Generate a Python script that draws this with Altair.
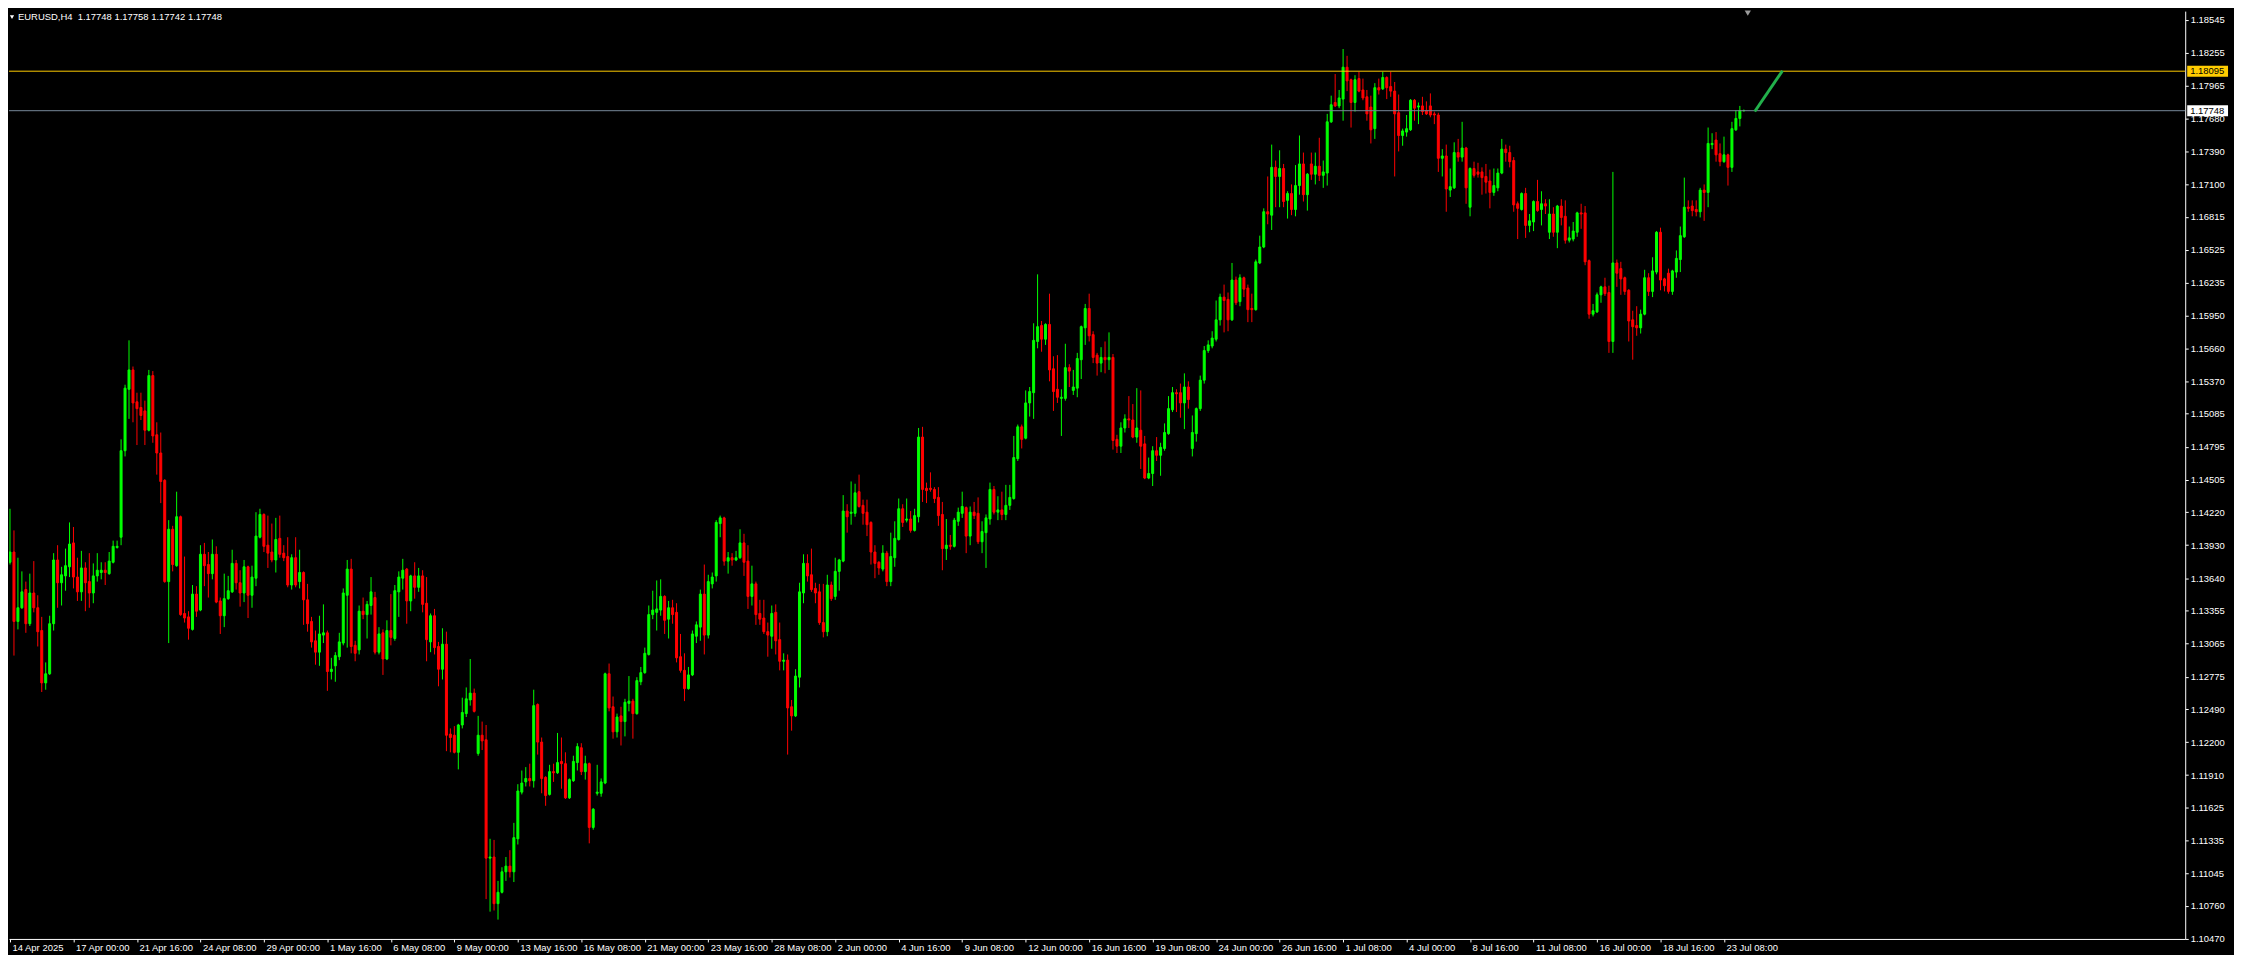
import json
import altair as alt
import pandas as pd

# ---------------- data (EURUSD H4 candles) ----------------
OPEN = [
1.1378,1.1387,1.1326,1.1338,1.1354,1.1324,1.1351,1.1338,1.1318,1.1272,
1.1280,1.1324,1.1380,1.1360,1.1366,1.1374,1.1395,1.1365,1.1352,1.1373,
1.1361,1.1351,1.1366,1.1369,1.1371,1.1368,1.1378,1.1391,1.1400,1.1476,
1.1530,1.1547,1.1519,1.1514,1.1511,1.1494,1.1542,1.1490,1.1474,1.1450,
1.1361,1.1407,1.1375,1.1418,1.1333,1.1330,1.1319,1.1350,1.1336,1.1385,
1.1376,1.1368,1.1385,1.1344,1.1331,1.1346,1.1352,1.1377,1.1360,1.1351,
1.1374,1.1349,1.1364,1.1400,1.1420,1.1393,1.1387,1.1380,1.1399,1.1386,
1.1383,1.1358,1.1382,1.1361,1.1369,1.1345,1.1326,1.1309,1.1299,1.1314,
1.1316,1.1282,1.1287,1.1295,1.1307,1.1349,1.1372,1.1305,1.1301,1.1335,
1.1332,1.1340,1.1347,1.1299,1.1316,1.1293,1.1318,1.1311,1.1352,1.1364,
1.1372,1.1344,1.1366,1.1356,1.1366,1.1342,1.1308,1.1331,1.1304,1.1284,
1.1306,1.1227,1.1226,1.1211,1.1235,1.1245,1.1257,1.1263,1.1210,1.1226,
1.1222,1.1118,1.1119,1.1078,1.1088,1.1106,1.1111,1.1106,1.1135,1.1176,
1.1185,1.1188,1.1186,1.1253,1.1220,1.1189,1.1174,1.1194,1.1193,1.1203,
1.1201,1.1171,1.1186,1.1202,1.1215,1.1194,1.1201,1.1145,1.1175,1.1175,
1.1184,1.1280,1.1251,1.1229,1.1243,1.1238,1.1254,1.1256,1.1245,1.1273,
1.1281,1.1297,1.1332,1.1334,1.1336,1.1348,1.1328,1.1338,1.1334,1.1295,
1.1283,1.1267,1.1279,1.1313,1.1321,1.1350,1.1314,1.1359,1.1366,1.1412,
1.1417,1.1379,1.1382,1.1380,1.1382,1.1395,1.1379,1.1348,1.1359,1.1333,
1.1329,1.1317,1.1313,1.1334,1.1310,1.1291,1.1292,1.1251,1.1243,1.1277,
1.1351,1.1377,1.1367,1.1355,1.1352,1.1325,1.1317,1.1358,1.1348,1.1370,
1.1379,1.1423,1.1421,1.1421,1.1440,1.1428,1.1422,1.1413,1.1387,1.1378,
1.1372,1.1386,1.1361,1.1382,1.1398,1.1425,1.1415,1.1416,1.1406,1.1418,
1.1488,1.1443,1.1443,1.1442,1.1435,1.1420,1.1390,1.1393,1.1392,1.1414,
1.1421,1.1426,1.1401,1.1422,1.1421,1.1396,1.1404,1.1416,1.1442,1.1422,
1.1424,1.1420,1.1428,1.1434,1.1469,1.1497,1.1487,1.1518,1.1527,1.1572,
1.1586,1.1574,1.1587,1.1548,1.1530,1.1522,1.1522,1.1549,1.1529,1.1531,
1.1556,1.1584,1.1601,1.1578,1.1560,1.1553,1.1558,1.1556,1.1558,1.1486,
1.1480,1.1496,1.1504,1.1503,1.1488,1.1494,1.1482,1.1452,1.1456,1.1476,
1.1472,1.1478,1.1491,1.1512,1.1527,1.1527,1.1518,1.1532,1.1478,1.1491,
1.1513,1.1538,1.1564,1.1568,1.1574,1.1591,1.1611,1.1609,1.1591,1.1626,
1.1607,1.1628,1.1619,1.1601,1.1600,1.1641,1.1655,1.1686,1.1683,1.1725,
1.1717,1.1724,1.1696,1.1702,1.1688,1.1709,1.1728,1.1701,1.1728,1.1719,
1.1726,1.1718,1.1720,1.1765,1.1782,1.1779,1.1785,1.1813,1.1802,1.1782,
1.1803,1.1793,1.1787,1.1778,1.1759,1.1795,1.1794,1.1804,1.1796,1.1792,
1.1773,1.1753,1.1756,1.1758,1.1784,1.1778,1.1779,1.1775,1.1779,1.1772,
1.1771,1.1733,1.1735,1.1705,1.1707,1.1738,1.1734,1.1742,1.1690,1.1724,
1.1721,1.1721,1.1717,1.1713,1.1703,1.1707,1.1720,1.1741,1.1738,1.1731,
1.1693,1.1688,1.1702,1.1674,1.1677,1.1695,1.1688,1.1693,1.1668,1.1684,
1.1668,1.1691,1.1682,1.1661,1.1662,1.1668,1.1685,1.1685,1.1643,1.1596,
1.1598,1.1613,1.1620,1.1615,1.1572,1.1641,1.1636,1.1628,1.1617,1.1591,
1.1586,1.1584,1.1596,1.1628,1.1616,1.1633,1.1668,1.1627,1.1632,1.1616,
1.1633,1.1644,1.1664,1.1690,1.1691,1.1688,1.1686,1.1705,1.1703,1.1745,
1.1749,1.1737,1.1730,1.1736,1.1725,1.1758,1.1768,1.17748]

HIGH = [
1.1425,1.1406,1.1382,1.1370,1.1361,1.1368,1.1379,1.1349,1.1330,1.1290,
1.1331,1.1386,1.1393,1.1374,1.1390,1.1413,1.1409,1.1382,1.1388,1.1378,
1.1386,1.1377,1.1386,1.1378,1.1378,1.1387,1.1397,1.1397,1.1486,1.1534,
1.1573,1.1550,1.1527,1.1527,1.1520,1.1547,1.1546,1.1501,1.1492,1.1451,
1.1415,1.1410,1.1440,1.1419,1.1383,1.1335,1.1358,1.1357,1.1393,1.1395,
1.1387,1.1398,1.1392,1.1347,1.1368,1.1366,1.1389,1.1380,1.1371,1.1380,
1.1375,1.1375,1.1422,1.1425,1.1421,1.1419,1.1412,1.1417,1.1419,1.1393,
1.1400,1.1385,1.1400,1.1389,1.1370,1.1359,1.1330,1.1318,1.1331,1.1341,
1.1318,1.1294,1.1299,1.1316,1.1355,1.1380,1.1381,1.1309,1.1340,1.1347,
1.1344,1.1365,1.1352,1.1321,1.1319,1.1327,1.1350,1.1358,1.1370,1.1381,
1.1373,1.1367,1.1378,1.1373,1.1371,1.1365,1.1333,1.1337,1.1308,1.1320,
1.1317,1.1232,1.1234,1.1236,1.1259,1.1268,1.1293,1.1267,1.1243,1.1238,
1.1235,1.1135,1.1134,1.1098,1.1110,1.1119,1.1125,1.1149,1.1183,1.1195,
1.1198,1.1201,1.1266,1.1254,1.1224,1.1190,1.1200,1.1201,1.1228,1.1224,
1.1211,1.1188,1.1208,1.1219,1.1219,1.1208,1.1202,1.1162,1.1200,1.1188,
1.1281,1.1289,1.1260,1.1245,1.1251,1.1258,1.1278,1.1258,1.1277,1.1286,
1.1303,1.1340,1.1353,1.1362,1.1363,1.1349,1.1344,1.1345,1.1342,1.1315,
1.1298,1.1286,1.1318,1.1326,1.1354,1.1376,1.1367,1.1369,1.1415,1.1419,
1.1418,1.1387,1.1386,1.1388,1.1407,1.1403,1.1393,1.1375,1.1361,1.1345,
1.1345,1.1325,1.1340,1.1341,1.1325,1.1298,1.1297,1.1257,1.1284,1.1360,
1.1385,1.1385,1.1390,1.1360,1.1359,1.1359,1.1367,1.1361,1.1382,1.1381,
1.1437,1.1429,1.1449,1.1447,1.1455,1.1433,1.1433,1.1414,1.1393,1.1379,
1.1393,1.1388,1.1404,1.1414,1.1434,1.1429,1.1434,1.1423,1.1425,1.1496,
1.1497,1.1448,1.1457,1.1444,1.1444,1.1431,1.1416,1.1402,1.1417,1.1426,
1.1440,1.1427,1.1427,1.1431,1.1435,1.1414,1.1420,1.1448,1.1445,1.1436,
1.1440,1.1446,1.1446,1.1489,1.1499,1.1499,1.1529,1.1532,1.1588,1.1631,
1.1590,1.1588,1.1614,1.1559,1.1560,1.1530,1.1570,1.1552,1.1547,1.1562,
1.1586,1.1605,1.1614,1.1581,1.1562,1.1567,1.1572,1.1580,1.1561,1.1490,
1.1501,1.1508,1.1524,1.1517,1.1531,1.1529,1.1489,1.1470,1.1480,1.1488,
1.1483,1.1500,1.1524,1.1532,1.1530,1.1535,1.1544,1.1537,1.1507,1.1514,
1.1542,1.1568,1.1573,1.1581,1.1608,1.1614,1.1622,1.1615,1.1641,1.1629,
1.1631,1.1629,1.1622,1.1614,1.1644,1.1665,1.1689,1.1717,1.1745,1.1731,
1.1740,1.1728,1.1704,1.1710,1.1727,1.1753,1.1738,1.1720,1.1738,1.1738,
1.1751,1.1731,1.1772,1.1788,1.1807,1.1793,1.1829,1.1823,1.1803,1.1806,
1.1809,1.1803,1.1793,1.1788,1.1799,1.1803,1.1809,1.1805,1.1809,1.1800,
1.1789,1.1759,1.1771,1.1785,1.1785,1.1782,1.1787,1.1783,1.1790,1.1774,
1.1773,1.1741,1.1745,1.1724,1.1747,1.1750,1.1765,1.1743,1.1725,1.1730,
1.1729,1.1725,1.1728,1.1723,1.1724,1.1724,1.1750,1.1745,1.1744,1.1734,
1.1695,1.1703,1.1707,1.1684,1.1696,1.1714,1.1704,1.1697,1.1697,1.1690,
1.1692,1.1697,1.1696,1.1673,1.1677,1.1686,1.1693,1.1691,1.1644,1.1605,
1.1615,1.1621,1.1628,1.1621,1.1721,1.1644,1.1642,1.1629,1.1618,1.1599,
1.1603,1.1600,1.1635,1.1632,1.1646,1.1669,1.1672,1.1628,1.1636,1.1635,
1.1652,1.1673,1.1716,1.1696,1.1696,1.1696,1.1707,1.1710,1.1760,1.1755,
1.1756,1.1746,1.1752,1.1737,1.1765,1.1775,1.1779,1.17758]

LOW = [
1.1376,1.1296,1.1319,1.1337,1.1316,1.1322,1.1334,1.1304,1.1264,1.1266,
1.1279,1.1318,1.1338,1.1340,1.1353,1.1365,1.1355,1.1344,1.1344,1.1335,
1.1338,1.1342,1.1361,1.1363,1.1358,1.1367,1.1377,1.1390,1.1393,1.1471,
1.1504,1.1501,1.1481,1.1503,1.1481,1.1493,1.1483,1.1455,1.1430,1.1360,
1.1307,1.1370,1.1374,1.1331,1.1325,1.1310,1.1318,1.1330,1.1335,1.1357,
1.1347,1.1363,1.1342,1.1315,1.1321,1.1345,1.1351,1.1354,1.1339,1.1343,
1.1329,1.1338,1.1357,1.1399,1.1387,1.1373,1.1378,1.1369,1.1382,1.1379,
1.1356,1.1354,1.1356,1.1355,1.1323,1.1317,1.1303,1.1288,1.1287,1.1307,
1.1265,1.1275,1.1273,1.1292,1.1305,1.1303,1.1298,1.1291,1.1297,1.1328,
1.1311,1.1332,1.1297,1.1297,1.1279,1.1292,1.1305,1.1309,1.1330,1.1354,
1.1324,1.1335,1.1346,1.1352,1.1334,1.1291,1.1299,1.1297,1.1269,1.1275,
1.1212,1.1211,1.1210,1.1196,1.1232,1.1242,1.1252,1.1246,1.1208,1.1213,
1.1082,1.1071,1.1072,1.1064,1.1087,1.1098,1.1101,1.1097,1.1130,1.1174,
1.1181,1.1181,1.1180,1.1209,1.1175,1.1164,1.1173,1.1185,1.1192,1.1179,
1.1170,1.1170,1.1185,1.1195,1.1191,1.1187,1.1131,1.1143,1.1173,1.1172,
1.1183,1.1247,1.1223,1.1224,1.1217,1.1225,1.1247,1.1223,1.1244,1.1270,
1.1280,1.1296,1.1328,1.1318,1.1331,1.1315,1.1311,1.1324,1.1290,1.1281,
1.1256,1.1266,1.1278,1.1307,1.1309,1.1297,1.1311,1.1355,1.1361,1.1400,
1.1375,1.1368,1.1375,1.1379,1.1381,1.1366,1.1337,1.1340,1.1323,1.1323,
1.1315,1.1295,1.1302,1.1297,1.1283,1.1283,1.1209,1.1230,1.1242,1.1268,
1.1342,1.1361,1.1352,1.1342,1.1323,1.1312,1.1313,1.1344,1.1345,1.1353,
1.1378,1.1404,1.1411,1.1418,1.1426,1.1411,1.1401,1.1376,1.1364,1.1367,
1.1370,1.1357,1.1357,1.1374,1.1397,1.1409,1.1413,1.1404,1.1405,1.1413,
1.1431,1.1430,1.1440,1.1430,1.1410,1.1371,1.1380,1.1389,1.1391,1.1410,
1.1417,1.1386,1.1393,1.1416,1.1394,1.1386,1.1373,1.1411,1.1420,1.1415,
1.1415,1.1415,1.1424,1.1433,1.1467,1.1478,1.1486,1.1506,1.1504,1.1566,
1.1563,1.1569,1.1537,1.1511,1.1518,1.1489,1.1520,1.1532,1.1525,1.1523,
1.1539,1.1569,1.1572,1.1553,1.1542,1.1545,1.1544,1.1547,1.1477,1.1474,
1.1474,1.1492,1.1496,1.1487,1.1483,1.1460,1.1451,1.1451,1.1445,1.1467,
1.1454,1.1476,1.1490,1.1510,1.1510,1.1505,1.1495,1.1513,1.1471,1.1484,
1.1511,1.1535,1.1562,1.1566,1.1572,1.1586,1.1580,1.1581,1.1590,1.1604,
1.1603,1.1611,1.1589,1.1589,1.1599,1.1640,1.1654,1.1675,1.1670,1.1690,
1.1690,1.1690,1.1680,1.1683,1.1682,1.1701,1.1695,1.1687,1.1714,1.1710,
1.1713,1.1707,1.1709,1.1764,1.1778,1.1777,1.1766,1.1792,1.1760,1.1774,
1.1791,1.1784,1.1766,1.1746,1.1750,1.1789,1.1793,1.1785,1.1787,1.1717,
1.1739,1.1744,1.1752,1.1757,1.1766,1.1763,1.1771,1.1771,1.1769,1.1763,
1.1721,1.1717,1.1686,1.1699,1.1706,1.1730,1.1730,1.1693,1.1682,1.1716,
1.1716,1.1701,1.1702,1.1689,1.1700,1.1704,1.1719,1.1730,1.1725,1.1686,
1.1662,1.1687,1.1663,1.1668,1.1669,1.1686,1.1674,1.1684,1.1662,1.1664,
1.1654,1.1674,1.1658,1.1659,1.1660,1.1664,1.1671,1.1639,1.1592,1.1594,
1.1597,1.1606,1.1612,1.1562,1.1562,1.1620,1.1613,1.1613,1.1572,1.1556,
1.1577,1.1579,1.1595,1.1612,1.1611,1.1631,1.1617,1.1616,1.1614,1.1613,
1.1628,1.1633,1.1663,1.1686,1.1682,1.1682,1.1681,1.1678,1.1690,1.1741,
1.1730,1.1726,1.1729,1.1709,1.1721,1.1757,1.1761,1.17742]

CLOSE = [
1.1387,1.1326,1.1338,1.1352,1.1324,1.1351,1.1338,1.1317,1.1272,1.1280,
1.1324,1.1380,1.1360,1.1367,1.1375,1.1394,1.1365,1.1352,1.1373,1.1360,
1.1351,1.1366,1.1371,1.1371,1.1369,1.1379,1.1392,1.1392,1.1476,1.1531,
1.1547,1.1518,1.1513,1.1507,1.1494,1.1542,1.1489,1.1474,1.1449,1.1361,
1.1407,1.1376,1.1418,1.1332,1.1329,1.1320,1.1350,1.1335,1.1385,1.1375,
1.1368,1.1385,1.1343,1.1331,1.1346,1.1353,1.1377,1.1360,1.1351,1.1374,
1.1349,1.1365,1.1401,1.1420,1.1392,1.1386,1.1380,1.1398,1.1385,1.1382,
1.1358,1.1382,1.1358,1.1369,1.1345,1.1324,1.1308,1.1299,1.1315,1.1316,
1.1282,1.1284,1.1296,1.1308,1.1351,1.1372,1.1304,1.1298,1.1335,1.1332,
1.1341,1.1352,1.1299,1.1315,1.1293,1.1318,1.1312,1.1353,1.1365,1.1371,
1.1344,1.1366,1.1356,1.1366,1.1341,1.1310,1.1331,1.1303,1.1284,1.1306,
1.1226,1.1224,1.1211,1.1235,1.1246,1.1258,1.1263,1.1247,1.1226,1.1221,
1.1118,1.1119,1.1078,1.1088,1.1106,1.1111,1.1106,1.1136,1.1177,1.1184,
1.1188,1.1186,1.1252,1.1220,1.1188,1.1173,1.1194,1.1193,1.1202,1.1201,
1.1171,1.1187,1.1203,1.1216,1.1194,1.1201,1.1145,1.1161,1.1176,1.1185,
1.1280,1.1250,1.1229,1.1242,1.1238,1.1255,1.1256,1.1245,1.1274,1.1281,
1.1298,1.1332,1.1336,1.1337,1.1348,1.1327,1.1338,1.1332,1.1294,1.1283,
1.1267,1.1279,1.1315,1.1323,1.1350,1.1314,1.1361,1.1365,1.1413,1.1417,
1.1379,1.1382,1.1380,1.1382,1.1395,1.1378,1.1348,1.1359,1.1332,1.1328,
1.1317,1.1314,1.1333,1.1309,1.1291,1.1292,1.1250,1.1243,1.1278,1.1352,
1.1377,1.1366,1.1354,1.1351,1.1325,1.1317,1.1358,1.1346,1.1370,1.1380,
1.1423,1.1418,1.1422,1.1439,1.1427,1.1421,1.1411,1.1387,1.1377,1.1373,
1.1386,1.1361,1.1383,1.1399,1.1425,1.1413,1.1416,1.1406,1.1419,1.1488,
1.1442,1.1441,1.1442,1.1434,1.1419,1.1390,1.1393,1.1392,1.1415,1.1422,
1.1427,1.1401,1.1422,1.1419,1.1396,1.1405,1.1417,1.1442,1.1422,1.1424,
1.1420,1.1428,1.1435,1.1470,1.1497,1.1486,1.1518,1.1528,1.1573,1.1585,
1.1574,1.1587,1.1547,1.1528,1.1523,1.1523,1.1549,1.1546,1.1532,1.1557,
1.1585,1.1601,1.1577,1.1558,1.1553,1.1558,1.1556,1.1558,1.1485,1.1480,
1.1496,1.1504,1.1503,1.1488,1.1496,1.1480,1.1452,1.1456,1.1476,1.1472,
1.1479,1.1492,1.1513,1.1527,1.1526,1.1518,1.1532,1.1521,1.1492,1.1513,
1.1538,1.1564,1.1569,1.1575,1.1591,1.1611,1.1608,1.1591,1.1626,1.1606,
1.1628,1.1618,1.1600,1.1600,1.1642,1.1655,1.1686,1.1684,1.1725,1.1717,
1.1724,1.1695,1.1702,1.1688,1.1709,1.1728,1.1701,1.1719,1.1719,1.1726,
1.1718,1.1721,1.1765,1.1780,1.1779,1.1786,1.1813,1.1801,1.1782,1.1802,
1.1792,1.1786,1.1772,1.1758,1.1795,1.1793,1.1804,1.1795,1.1792,1.1772,
1.1753,1.1757,1.1759,1.1784,1.1777,1.1779,1.1774,1.1772,1.1771,1.1771,
1.1733,1.1735,1.1706,1.1708,1.1738,1.1734,1.1742,1.1707,1.1724,1.1718,
1.1719,1.1716,1.1712,1.1703,1.1709,1.1720,1.1741,1.1738,1.1730,1.1692,
1.1689,1.1702,1.1674,1.1678,1.1695,1.1687,1.1693,1.1691,1.1684,1.1668,
1.1691,1.1681,1.1661,1.1663,1.1669,1.1685,1.1684,1.1642,1.1596,1.1599,
1.1613,1.1620,1.1614,1.1572,1.1641,1.1632,1.1627,1.1616,1.1590,1.1585,
1.1584,1.1596,1.1628,1.1616,1.1634,1.1668,1.1626,1.1621,1.1616,1.1634,
1.1645,1.1665,1.1690,1.1689,1.1687,1.1686,1.1705,1.1703,1.1746,1.1746,
1.1736,1.1730,1.1736,1.1725,1.1759,1.1768,1.1775,1.17748]

X_TICK_INDEX = list(range(0, 433, 16))
X_TICK_LABELS = ["14 Apr 2025", "17 Apr 00:00", "21 Apr 16:00", "24 Apr 08:00", "29 Apr 00:00",
                 "1 May 16:00", "6 May 08:00", "9 May 00:00", "13 May 16:00", "16 May 08:00",
                 "21 May 00:00", "23 May 16:00", "28 May 08:00", "2 Jun 00:00", "4 Jun 16:00",
                 "9 Jun 08:00", "12 Jun 00:00", "16 Jun 16:00", "19 Jun 08:00", "24 Jun 00:00",
                 "26 Jun 16:00", "1 Jul 08:00", "4 Jul 00:00", "8 Jul 16:00", "11 Jul 08:00",
                 "16 Jul 00:00", "18 Jul 16:00", "23 Jul 08:00"]
Y_TICKS = [1.18545, 1.18255, 1.17965, 1.17680, 1.17390, 1.17100, 1.16815, 1.16525, 1.16235,
           1.15950, 1.15660, 1.15370, 1.15085, 1.14795, 1.14505, 1.14220, 1.13930, 1.13640,
           1.13355, 1.13065, 1.12775, 1.12490, 1.12200, 1.11910, 1.11625, 1.11335, 1.11045,
           1.10760, 1.10470]
SYMBOL = "EURUSD,H4"
LEVEL_PRICE = 1.18095
BID_PRICE = 1.17748
TREND_X = [439.75, 446.75]
TREND_Y = [1.17741, 1.18099]
SHIFT_MARK_X = [438.0]

# ---------------- build ----------------
W, H = 2186, 932
FONT = "Liberation Sans"
FS = 9.5

rows = []
for i in range(len(OPEN)):
    o, h, l, c = OPEN[i], HIGH[i], LOW[i], CLOSE[i]
    rows.append({"i": i, "xl": i - 0.25, "xr": i + 0.25,
                 "top": max(o, c), "bot": min(o, c),
                 "hi": max(h, o, c), "lo": min(l, o, c),
                 "dir": "up" if c >= o else "down"})
df = pd.DataFrame(rows)

xs = alt.Scale(domain=[-0.25, 548.25], nice=False, zero=False)
ys = alt.Scale(domain=[1.10470, 1.18623], nice=False, zero=False)
label_expr = json.dumps(X_TICK_LABELS) + "[round(datum.value / 16)]"
x_axis = alt.Axis(values=X_TICK_INDEX, labelExpr=label_expr, title=None, grid=False,
                  domainColor="#FFFFFF", tickColor="#FFFFFF", labelColor="#FFFFFF",
                  tickSize=3, labelAlign="left", labelOffset=2, labelPadding=1,
                  labelFont=FONT, labelFontSize=FS, labelOverlap=False, labelFlush=False,
                  zindex=0)
y_axis = alt.Axis(orient="right", values=Y_TICKS, format=".5f", title=None, grid=False,
                  domainColor="#FFFFFF", tickColor="#FFFFFF", labelColor="#FFFFFF",
                  tickSize=3, labelPadding=2, labelFont=FONT, labelFontSize=FS,
                  labelOverlap=False, labelFlush=False, zindex=0)
col = alt.Scale(domain=["up", "down"], range=["#00FF00", "#FF0000"])

base = alt.Chart(df)
wicks = base.mark_rule(strokeWidth=1, clip=True).encode(
    x=alt.X("i:Q", scale=xs, axis=x_axis),
    y=alt.Y("lo:Q", scale=ys, axis=y_axis),
    y2="hi:Q",
    color=alt.Color("dir:N", scale=col, legend=None),
)
bodies = base.mark_rect(strokeWidth=1, clip=True).encode(
    x=alt.X("xl:Q", scale=xs, axis=x_axis), x2="xr:Q",
    y=alt.Y("bot:Q", scale=ys, axis=y_axis), y2="top:Q",
    color=alt.Color("dir:N", scale=col, legend=None),
    stroke=alt.Stroke("dir:N", scale=col, legend=None),
)

lvl_df = pd.DataFrame({"p": [LEVEL_PRICE], "lbl": [f"{LEVEL_PRICE:.5f}"]})
bid_df = pd.DataFrame({"p": [BID_PRICE], "lbl": [f"{BID_PRICE:.5f}"]})
yel = "#FFCC00"
gry = "#778899"
level_line = alt.Chart(lvl_df).mark_rule(color=yel, strokeWidth=1).encode(
    y=alt.Y("p:Q", scale=ys, axis=y_axis))
bid_line = alt.Chart(bid_df).mark_rule(color=gry, strokeWidth=1).encode(
    y=alt.Y("p:Q", scale=ys, axis=y_axis))
level_box = alt.Chart(lvl_df).mark_rule(color=yel, strokeWidth=11).encode(
    x=alt.value(W + 2), x2=alt.value(W + 43), y=alt.Y("p:Q", scale=ys, axis=y_axis))
bid_box = alt.Chart(bid_df).mark_rule(color="#FFFFFF", strokeWidth=11).encode(
    x=alt.value(W + 2), x2=alt.value(W + 43), y=alt.Y("p:Q", scale=ys, axis=y_axis))
level_txt = alt.Chart(lvl_df).mark_text(align="left", baseline="middle", color="#000000",
                                        font=FONT, fontSize=FS).encode(
    x=alt.value(W + 5), y=alt.Y("p:Q", scale=ys, axis=y_axis), text="lbl:N")
bid_txt = alt.Chart(bid_df).mark_text(align="left", baseline="middle", color="#000000",
                                      font=FONT, fontSize=FS).encode(
    x=alt.value(W + 5), y=alt.Y("p:Q", scale=ys, axis=y_axis), text="lbl:N")

trend = alt.Chart(pd.DataFrame({"x": TREND_X, "y": TREND_Y})).mark_line(
    color="#22B04B", strokeWidth=3, clip=True).encode(
    x=alt.X("x:Q", scale=xs, axis=x_axis), y=alt.Y("y:Q", scale=ys, axis=y_axis))

marker = alt.Chart(pd.DataFrame({"x": SHIFT_MARK_X})).mark_point(
    shape="triangle-down", filled=True, color="#9A9A9A", size=40, opacity=1).encode(
    x=alt.X("x:Q", scale=xs, axis=x_axis), y=alt.value(2))

title_str = (SYMBOL + "\u00a0\u00a0" + f"{OPEN[-1]:.5f} {HIGH[-1]:.5f} "
             f"{LOW[-1]:.5f} {CLOSE[-1]:.5f}")
title_txt = alt.Chart(pd.DataFrame({"t": [title_str]})).mark_text(
    align="left", baseline="top", color="#FFFFFF", font=FONT, fontSize=FS).encode(
    x=alt.value(9), y=alt.value(1), text="t:N")
title_tri = alt.Chart(pd.DataFrame({"t": [0]})).mark_point(
    shape="triangle-down", filled=True, color="#FFFFFF", size=18, opacity=1).encode(
    x=alt.value(3), y=alt.value(6))

chart = alt.layer(
    wicks, bodies, level_line, bid_line, trend, level_box, bid_box, level_txt, bid_txt,
    marker, title_txt, title_tri,
).properties(width=W, height=H, padding=0).configure(
    background="#000000"
).configure_view(strokeWidth=0)

chart.save("out.html", embed_options={"renderer": "svg", "actions": False})
